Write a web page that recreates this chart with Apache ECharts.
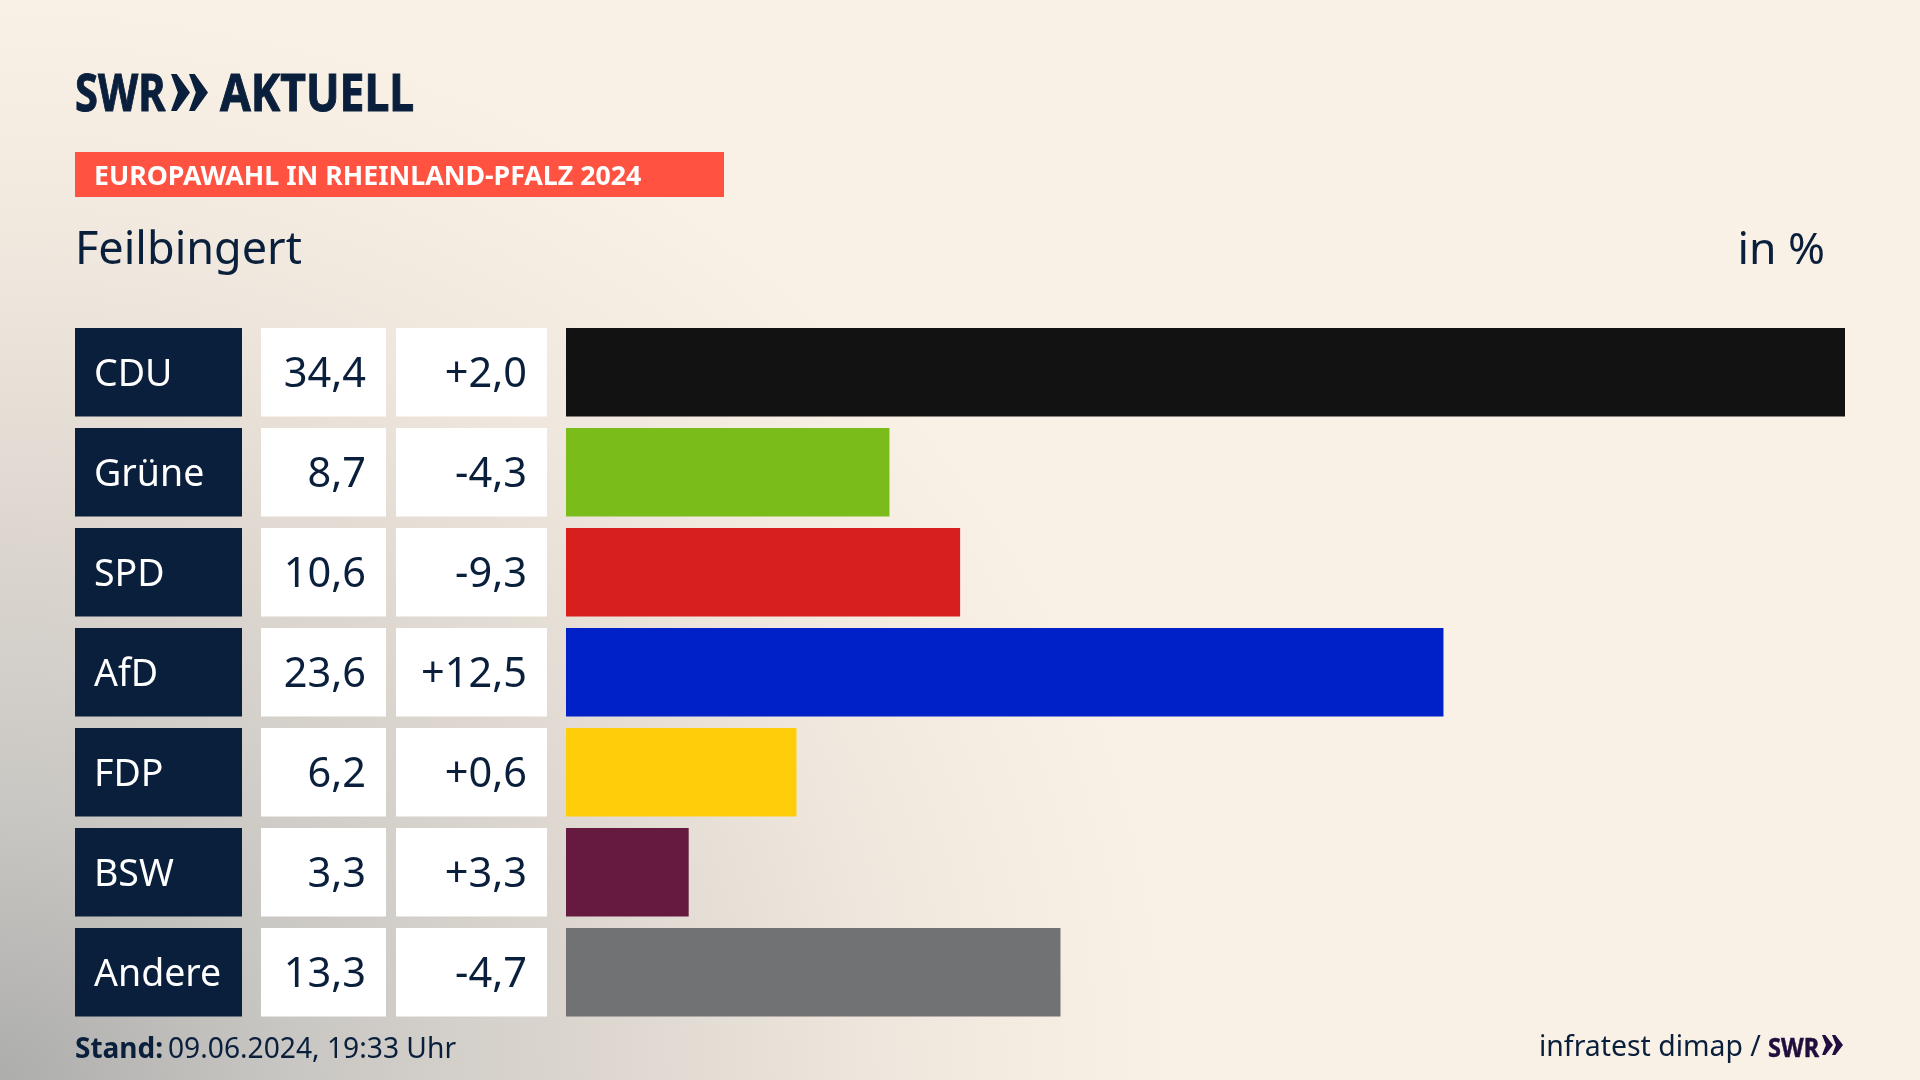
<!DOCTYPE html>
<html><head><meta charset="utf-8">
<script src="https://cdn.jsdelivr.net/npm/echarts@6/dist/echarts.min.js"></script>
<style>
html,body{margin:0;padding:0;width:1920px;height:1080px;overflow:hidden;
background:radial-gradient(ellipse 1180px 1080px at 0 100%, #adadac 0%, #c9c7c3 25%, #dcd6cf 50%, #efe7dd 75%, #faf1e6 100%), #faf1e6;}
#c{width:1920px;height:1080px}
</style></head><body><div id="c"></div>
<script>
const parties = ['CDU','Grüne','SPD','AfD','FDP','BSW','Andere'];
const shares = [34.4,8.7,10.6,23.6,6.2,3.3,13.3];
const changes = ['+2,0','-4,3','-9,3','+12,5','+0,6','+3,3','-4,7'];
const barColors = ['#121212','#7abd1a','#d7201e','#0020c8','#ffce0a','#661a3f','#707274'];
const NAVY='#0a1f3c', FONT='"Noto Sans"';
const fmt = v => v.toFixed(1).replace('.',',');

function cellAxis(data, margin, width){
  return {type:'category',inverse:true,position:'left',data,
    axisLine:{show:false},axisTick:{show:false},splitLine:{show:false},
    axisLabel:{show:true,interval:0,margin,align:'right',verticalAlign:'middle',
      formatter:v=>'{c|'+v+'}',
      rich:{c:{width:width-20,height:82,lineHeight:82,align:'right',padding:[6.5,20,0,0],backgroundColor:'#fff',
        color:NAVY,fontFamily:FONT,fontSize:41.5}}}};
}
function chevrons(x,y,h,w,gap,fill){
  return [0,1].map(i=>{const a=x+i*gap;return {type:'polygon',silent:true,
    shape:{points:[[a,y],[a+w*0.3,y],[a+w,y+h/2],[a+w*0.3,y+h],[a,y+h],[a+w*0.36,y+h/2]]},style:{fill}};});
}
function txt(x,base,text,size,weight,fill,align,scaleX,heavy){
  return {type:'text',silent:true,x,y:base-size*0.84+3,scaleX:scaleX||1,style:Object.assign({text,fontFamily:FONT,fontSize:size,fontWeight:weight,fill,
    align:align||'left',verticalAlign:'top'},heavy?{stroke:fill,lineWidth:heavy}:{})};
}
const chart = echarts.init(document.getElementById('c'),null,{renderer:'canvas',width:1920,height:1080});
chart.setOption({
  animation:false,
  backgroundColor:'transparent',
  grid:{left:566,top:322.25,width:1279,height:700,containLabel:false},
  xAxis:{type:'value',min:0,max:34.4,show:false},
  yAxis:[
    {type:'category',inverse:true,data:parties,axisLine:{show:false},axisTick:{show:false},
     axisLabel:{interval:0,margin:324,align:'right',verticalAlign:'middle',formatter:v=>'{c|'+v+'}',
       rich:{c:{width:148,height:82,lineHeight:82,align:'left',padding:[6.5,0,0,19],backgroundColor:NAVY,color:'#fff',fontFamily:FONT,fontSize:37.5}}}},
    cellAxis(shares.map(fmt),180,125),
    cellAxis(changes,19,151)
  ],
  series:[{type:'bar',yAxisIndex:0,barWidth:88.5,silent:true,
    data:shares.map((v,i)=>({value:v,itemStyle:{color:barColors[i]}}))}],
  graphic:[
    txt(75,111,'SWR',52,700,NAVY,'left',0.8,1),
    ...chevrons(171,74,37,19,18,NAVY),
    txt(220,111,'AKTUELL',52,700,NAVY,'left',0.855,1),
    {type:'rect',silent:true,shape:{x:75,y:152,width:649,height:45},style:{fill:'#ff5240'}},
    txt(94,183.5,'EUROPAWAHL IN RHEINLAND-PFALZ 2024',27,700,'#fff','left',0.99),
    txt(75,263,'Feilbingert',45,400,NAVY),
    txt(1825,263,'in %',44.5,400,NAVY,'right'),
    txt(75,1057,'Stand:',28,700,NAVY),
    txt(168,1057,'09.06.2024, 19:33 Uhr',28.2,400,NAVY),
    txt(1539,1055,'infratest dimap /',28.4,400,NAVY),
    txt(1768,1055,'SWR',27,700,'#1e0f3e','left',0.87,0.5),
    ...chevrons(1822,1035,20,11,10,'#1e0f3e')
  ]
});
</script></body></html>
